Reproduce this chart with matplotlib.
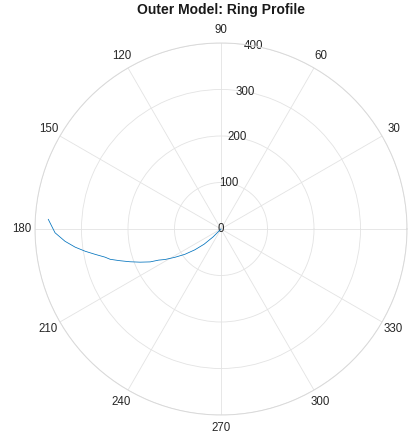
import numpy as np
import matplotlib
matplotlib.use("Agg")
import matplotlib.pyplot as plt

plt.rcParams['font.family'] = ['Liberation Sans', 'DejaVu Sans']

# Data (theta in degrees, r in data units)
theta_deg = [226, 225, 222, 218.5, 215, 211.6, 208.6, 206.5, 204.9, 202.3, 199.8,
             197.4, 195.3, 193.6, 191.4, 189.3, 187.1, 184.5, 181.3, 176.8]
radius = [0, 24, 48.7, 72, 95, 116, 137, 150, 168, 188, 208,
          228, 247, 257, 276, 296, 316, 336.5, 357, 372]
r_ticks = [0, 100, 200, 300, 400]
theta_ticks = list(range(0, 360, 30))
title = "Outer Model: Ring Profile"

fig = plt.figure(figsize=(4.15, 4.37), dpi=100)
ax = fig.add_axes([35/415, 22/437, 372/415, 372/437], projection='polar')

ax.plot(np.deg2rad(theta_deg), radius, color='#0072BD', lw=0.55)

ax.set_ylim(0, 400)
ax.set_rticks(r_ticks)
ax.set_yticklabels([str(v) for v in r_ticks])
ax.set_rlabel_position(80)
for lab in ax.get_yticklabels():
    lab.set_ha('center')
    lab.set_va('center')
ax.set_thetagrids(theta_ticks, [str(t) for t in theta_ticks])
ax.tick_params(axis='x', pad=2.5, length=0, labelsize=8.3, colors='#262626')
ax.tick_params(axis='y', labelsize=8.3, colors='#262626')
ax.grid(True, color='#e3e3e3', lw=0.6)
ax.spines['polar'].set_color('#d9d9d9')
ax.spines['polar'].set_linewidth(0.7)
ax.text(0.5, 1 + 33/372, title, transform=ax.transAxes, ha='center', va='center',
        fontsize=10, fontweight='bold', color='#1a1a1a')

fig.savefig('out.png', dpi=100)
